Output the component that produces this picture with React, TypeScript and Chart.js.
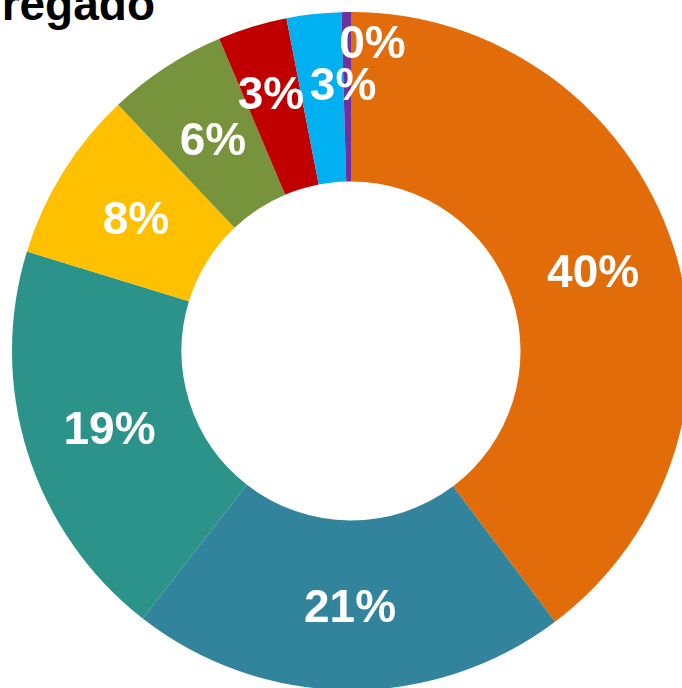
import React, { useEffect, useRef } from "react";
import { Chart, registerables } from "chart.js";

Chart.register(...registerables);

const categories = ["A", "B", "C", "D", "E", "F", "G", "H"];
const values = [39.7, 20.8, 19.2, 8.2, 5.7, 3.3, 2.6, 0.45];
const colors = ["#E36C0A", "#31849B", "#2C938A", "#FFC000", "#77933C", "#C00000", "#00B0F0", "#7030A0"];
// label nudges (px) for the crowded small slices
const labelDX = [0, 0, 0, 0, 0, -7, 19, 24];
const labelDY = [0, 0, 0, 0, 0, -15, -15, -55];
const titleText = "Agregado";

const labelPlugin = {
  id: "pctLabels",
  afterDatasetsDraw(chart: any) {
    const ctx = chart.ctx;
    const meta = chart.getDatasetMeta(0);
    const data = chart.data.datasets[0].data as number[];
    const total = data.reduce((a, b) => a + b, 0);
    ctx.save();
    ctx.fillStyle = "#ffffff";
    ctx.font = "bold 46px 'Liberation Sans', Arial, sans-serif";
    ctx.textAlign = "center";
    ctx.textBaseline = "middle";
    meta.data.forEach((arc: any, i: number) => {
      const p = arc.tooltipPosition();
      const txt = Math.round((data[i] / total) * 100) + "%";
      ctx.fillText(txt, p.x + labelDX[i] + 1, p.y + labelDY[i] + 4);
    });
    ctx.restore();
  },
};

export default function App() {
  const ref = useRef<HTMLCanvasElement>(null);
  useEffect(() => {
    const chart = new Chart(ref.current!, {
      type: "doughnut",
      data: {
        labels: categories,
        datasets: [
          {
            data: values,
            backgroundColor: colors,
            borderWidth: 0,
          },
        ],
      },
      options: {
        animation: false,
        responsive: false,
        cutout: "50%",
        layout: { padding: 0 },
        plugins: {
          legend: { display: false },
          tooltip: { enabled: false },
          title: { display: false },
        },
      },
      plugins: [labelPlugin],
    });
    return () => chart.destroy();
  }, []);

  return (
    <div
      style={{
        position: "fixed",
        left: 0,
        top: 0,
        width: 682,
        height: 688,
        overflow: "hidden",
        background: "#ffffff",
      }}
    >
      <div
        style={{
          position: "absolute",
          right: 682 - 155,
          top: -19,
          whiteSpace: "nowrap",
          font: "bold 46px 'Liberation Sans', Arial, sans-serif",
          color: "#000000",
          lineHeight: "46px",
        }}
      >
        {titleText}
      </div>
      <canvas
        ref={ref}
        width={678}
        height={678}
        style={{ position: "absolute", left: 12, top: 12, width: 678, height: 678 }}
      />
    </div>
  );
}
